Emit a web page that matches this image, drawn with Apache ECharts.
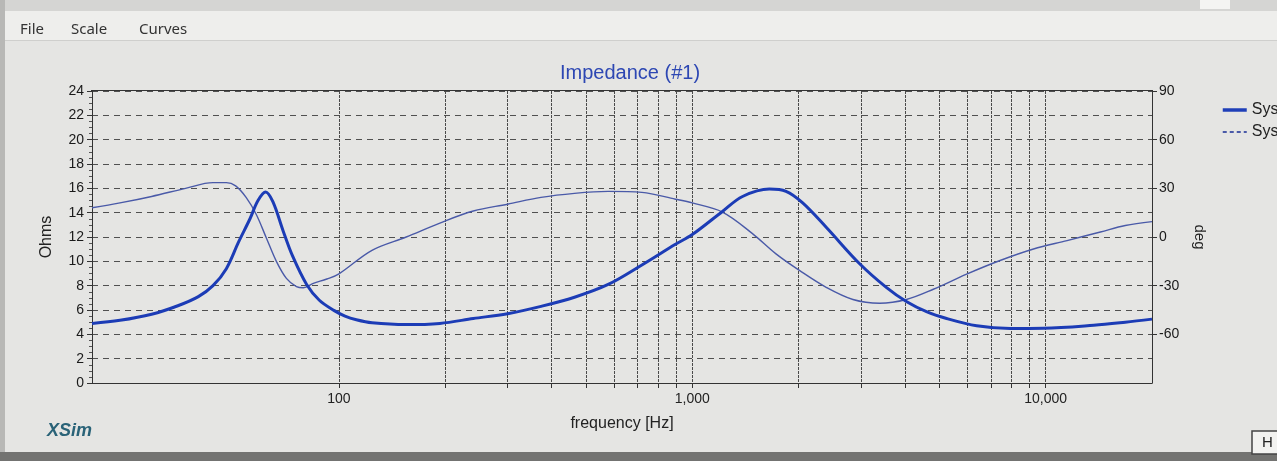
<!DOCTYPE html>
<html>
<head>
<meta charset="utf-8">
<script src="https://cdn.jsdelivr.net/npm/echarts@6/dist/echarts.min.js"></script>
<style>
html,body{margin:0;padding:0;background:#e5e5e3;}
#c{width:1277px;height:461px;}
</style>
</head>
<body>
<div id="c"></div>
<script>
// ---- data ----
const impedanceFreq = [20, 24, 29.5, 35, 40, 44, 48, 52, 56, 59, 62, 65, 69.5, 74, 81, 88, 97, 104, 112, 124, 155, 193, 240, 300, 373, 464, 578, 720, 896, 1000, 1217, 1387, 1652, 1842, 2053, 2393, 2976, 3540, 4035, 4600, 5244, 6380, 7940, 9870, 13680, 16800, 20000];
const impedanceOhms = [4.9, 5.15, 5.65, 6.35, 7.1, 8.0, 9.4, 11.6, 13.5, 15.0, 15.7, 14.9, 12.5, 10.4, 8.1, 6.8, 5.95, 5.5, 5.2, 4.95, 4.8, 4.9, 5.3, 5.7, 6.3, 7.05, 8.1, 9.7, 11.4, 12.2, 14.1, 15.33, 15.94, 15.75, 14.8, 12.8, 9.8, 7.86, 6.7, 5.86, 5.3, 4.7, 4.48, 4.5, 4.75, 5.0, 5.25];

const phaseFreq = [20, 24, 29.5, 36.8, 44, 48, 51, 54.6, 58.3, 62.3, 66.5, 71, 75.8, 79.3, 84.6, 92.4, 100, 124, 155, 193, 240, 300, 373, 464, 578, 720, 896, 1000, 1217, 1480, 1725, 2010, 2393, 2848, 3390, 4035, 4810, 5975, 7430, 9240, 11500, 14290, 16800, 20000];
const phaseDeg = [18, 21, 25, 30, 33.5, 33.5, 31.5, 24.4, 14, -0.6, -15, -25.5, -30.6, -31.3, -28.6, -25.9, -22.7, -8.2, 0, 8.6, 16, 20.2, 24.4, 26.9, 28.1, 27.5, 23.3, 21, 15.4, 2.1, -10.4, -20.6, -31, -38.5, -40.8, -38.5, -32.2, -22.9, -14.5, -7.4, -2.2, 3.1, 7.1, 9.5];

const gridFreqs = [100, 200, 300, 400, 500, 600, 700, 800, 900, 1000, 2000, 3000, 4000, 5000, 6000, 7000, 8000, 9000, 10000];
const freqLabels = [100, 1000, 10000];
const menuItems = ['File', 'Scale', 'Curves'];
const seriesNames = ['System Impedance', 'System Phase'];

const chart = echarts.init(document.getElementById('c'), null, {renderer: 'canvas'});
const zip = (a, b) => a.map((v, i) => [v, b[i]]);
const font = 'Liberation Sans, Arial, sans-serif';

const gridBox = {left: 92, top: 91, width: 1060, height: 292};

chart.setOption({
  backgroundColor: '#e5e5e3',
  animation: false,
  title: {
    text: 'Impedance (#1)', left: 625, top: 58, textAlign: 'center',
    textStyle: {color: '#2d47b3', fontSize: 20, fontWeight: 'normal', fontFamily: font}
  },
  legend: {
    orient: 'vertical', left: 1216, top: 97, itemWidth: 24, itemHeight: 10, itemGap: 6,
    textStyle: {fontSize: 16, color: '#222', fontFamily: font},
    itemStyle: {opacity: 0},
    data: [
      {name: seriesNames[0], itemStyle: {opacity: 0}, lineStyle: {width: 3.5, color: '#1f3fb8'}},
      {name: seriesNames[1], itemStyle: {opacity: 0}, lineStyle: {width: 2, type: [4, 3], color: '#4a5aa8'}}
    ]
  },
  grid: gridBox,
  xAxis: {
    type: 'log', logBase: 10, min: 20, max: 20000,
    name: 'frequency [Hz]', nameLocation: 'middle', nameGap: 33,
    nameTextStyle: {fontSize: 16, color: '#222', fontFamily: font},
    axisLine: {show: true, onZero: false, lineStyle: {color: '#333', width: 1}},
    axisTick: {show: true, customValues: gridFreqs, length: 5, lineStyle: {color: '#333'}},
    axisLabel: {
      customValues: freqLabels, margin: 9, fontSize: 14, color: '#222', fontFamily: font,
      formatter: v => Math.round(v).toLocaleString('en-US')
    },
    splitLine: {show: true, lineStyle: {color: '#4a4a4a', width: 1, type: [3, 1]}},
    minorSplitLine: {show: false}
  },
  yAxis: [
    {
      type: 'value', min: 0, max: 24, interval: 2, position: 'left',
      name: 'Ohms', nameLocation: 'middle', nameGap: 37, nameRotate: 90,
      nameTextStyle: {fontSize: 16, color: '#222', fontFamily: font},
      axisLine: {show: true, lineStyle: {color: '#333', width: 1}},
      axisTick: {show: true, length: 5, lineStyle: {color: '#333'}},
      minorTick: {show: true, splitNumber: 4, length: 3, lineStyle: {color: '#555'}},
      axisLabel: {fontSize: 14, color: '#1a1a1a', margin: 8, fontFamily: font},
      splitLine: {show: true, lineStyle: {color: '#505050', width: 1.2, type: [6, 5]}}
    },
    {
      type: 'value', min: -90, max: 90, interval: 30, position: 'right',
      name: 'deg', nameLocation: 'middle', nameGap: 40, nameRotate: -90,
      nameTextStyle: {fontSize: 15, color: '#222', fontFamily: font},
      axisLine: {show: true, lineStyle: {color: '#333', width: 1}},
      axisTick: {show: true, length: 5, lineStyle: {color: '#333'}},
      axisLabel: {fontSize: 14, color: '#1a1a1a', margin: 7, showMinLabel: false, fontFamily: font},
      splitLine: {show: false}
    }
  ],
  graphic: [
    {type: 'rect', shape: {x: 0, y: 0, width: 1277, height: 11}, style: {fill: '#d5d5d3'}, silent: true, z: -10},
    {type: 'rect', shape: {x: 0, y: 11, width: 1277, height: 30}, style: {fill: '#eeeeec'}, silent: true, z: -10},
    {type: 'rect', shape: {x: 0, y: 40, width: 1277, height: 1}, style: {fill: '#cfcfcd'}, silent: true, z: -10},
    {type: 'rect', shape: {x: 0, y: 0, width: 5, height: 461}, style: {fill: '#b8b8b6'}, silent: true, z: -9},
    {type: 'rect', shape: {x: 1200, y: 0, width: 30, height: 9}, style: {fill: '#f4f4f2'}, silent: true, z: -9},
    {type: 'rect', shape: {x: 0, y: 452, width: 1277, height: 9}, style: {fill: '#737371'}, silent: true, z: -9},
    {type: 'rect', shape: {x: 91, y: 90, width: 1062, height: 1}, style: {fill: '#333'}, silent: true, z: 5},
    {type: 'text', left: 20, top: 22, style: {text: menuItems[0], fontSize: 15, fill: '#333', fontFamily: 'Noto Sans, sans-serif'}},
    {type: 'text', left: 71, top: 22, style: {text: menuItems[1], fontSize: 15, fill: '#333', fontFamily: 'Noto Sans, sans-serif'}},
    {type: 'text', left: 139, top: 22, style: {text: menuItems[2], fontSize: 15, fill: '#333', fontFamily: 'Noto Sans, sans-serif'}},
    {type: 'text', left: 47, top: 422, style: {text: 'XSim', fontSize: 18, fontWeight: 'bold', fontStyle: 'italic', fill: '#2a6378', fontFamily: font}},
    {type: 'rect', shape: {x: 1252, y: 431, width: 30, height: 23}, style: {fill: '#f2f2f0', stroke: '#444', lineWidth: 1.5}, silent: true},
    {type: 'text', left: 1262, top: 435, style: {text: 'H', fontSize: 15, fill: '#222', fontFamily: font}}
  ],
  series: [
    {
      name: seriesNames[0], type: 'line', yAxisIndex: 0, symbol: 'none', smooth: 0.35,
      data: zip(impedanceFreq, impedanceOhms),
      lineStyle: {color: '#1c3cb6', width: 3}, itemStyle: {color: '#1c3cb6'}, z: 4
    },
    {
      name: seriesNames[1], type: 'line', yAxisIndex: 1, symbol: 'none', smooth: 0.35,
      data: zip(phaseFreq, phaseDeg),
      lineStyle: {color: '#4a5aa8', width: 1.4}, itemStyle: {color: '#4a5aa8'}, z: 3
    }
  ]
});
</script>
</body>
</html>
